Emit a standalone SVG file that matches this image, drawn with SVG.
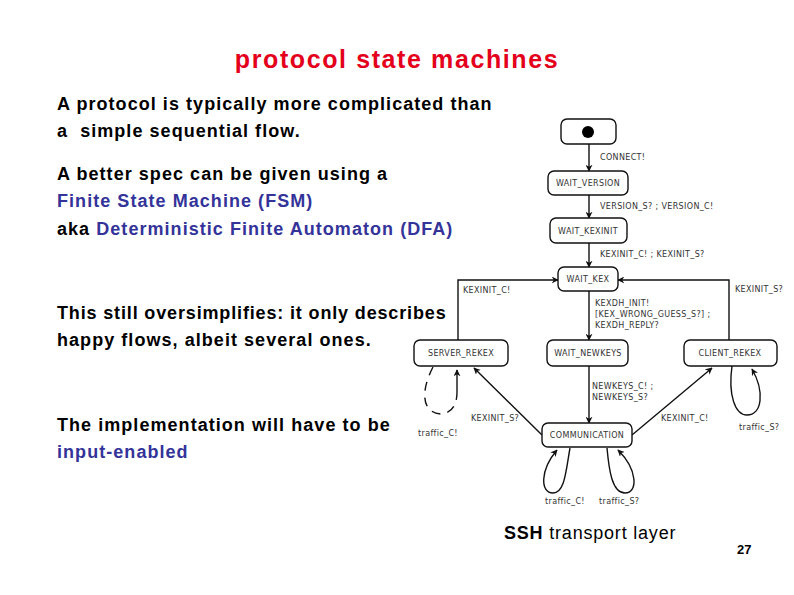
<svg xmlns="http://www.w3.org/2000/svg" width="794" height="595" viewBox="0 0 794 595">
<style>
.t{font-family:"Liberation Sans",Arial,sans-serif;font-weight:bold;font-size:18px;letter-spacing:1.05px;fill:#000}
.b{fill:#33339a}
.n rect{fill:#fff;stroke:#111;stroke-width:1.4}
.n text,.l{font-family:"DejaVu Sans",sans-serif;font-size:8px;letter-spacing:0.35px;fill:#333}
.n text{text-anchor:middle}
.c path{fill:none;stroke:#111;stroke-width:1.4}
</style>
<defs>
<marker id="a" viewBox="0 0 10 10" refX="9" refY="5" markerWidth="7" markerHeight="7" orient="auto" markerUnits="userSpaceOnUse">
<path d="M0,0 L10,5 L0,10 L3,5 z" fill="#111"/>
</marker>
</defs>
<rect width="794" height="595" fill="#fff"/>
<text x="397" y="68" text-anchor="middle" style="font-family:'Liberation Sans',Arial,sans-serif;font-weight:bold;font-size:25px;letter-spacing:1.6px;fill:#e4001b">protocol state machines</text>
<text class="t" x="57" y="110">A protocol is typically more complicated than</text>
<text class="t" x="57" y="137" xml:space="preserve">a  simple sequential flow.</text>
<text class="t" x="57" y="180">A better spec can be given using a</text>
<text class="t b" x="57" y="207">Finite State Machine (FSM)</text>
<text class="t" x="57" y="235">aka <tspan class="b">Deterministic Finite Automaton (DFA)</tspan></text>
<text class="t" x="57" y="319" style="letter-spacing:0.85px">This still oversimplifies: it only describes</text>
<text class="t" x="57" y="346">happy flows, albeit several ones.</text>
<text class="t" x="57" y="431">The implementation will have to be</text>
<text class="t b" x="57" y="458">input-enabled</text>
<text x="504" y="539" style="font-family:'Liberation Sans',Arial,sans-serif;font-size:18px;letter-spacing:0.8px;fill:#000"><tspan font-weight="bold">SSH</tspan> transport layer</text>
<text x="737" y="554" style="font-family:'Liberation Sans',Arial,sans-serif;font-size:13px;font-weight:bold;fill:#000">27</text>

<g class="c" id="connectors">
<path d="M589,144 V171" marker-end="url(#a)"/>
<path d="M589,195 V218" marker-end="url(#a)"/>
<path d="M589,243 V267" marker-end="url(#a)"/>
<path d="M589,291 V340" marker-end="url(#a)"/>
<path d="M589,366 V423" marker-end="url(#a)"/>
<path d="M458,340 V280 H558" marker-end="url(#a)"/>
<path d="M729,342 V280 H618" marker-end="url(#a)"/>
<path d="M542,435 L474,368" marker-end="url(#a)"/>
<path d="M632,435 L712,368" marker-end="url(#a)"/>
<path d="M433,367 C420,392 422,413 441,414 C455,413 457,400 457,392" stroke-dasharray="9,7"/>
<path d="M457,392 V370" marker-end="url(#a)"/>
<path d="M732,366 C728,395 735,415 747,415 C762,415 765,392 752,369" marker-end="url(#a)"/>
<path d="M570,448 C566,470 565,493 553,493 C540,493 540,470 557,450" marker-end="url(#a)"/>
<path d="M607,448 C609,470 612,493 625,493 C638,493 638,470 618,450" marker-end="url(#a)"/>
</g>

<g id="labels">
<text class="l" x="600" y="160">CONNECT!</text>
<text class="l" x="600" y="209">VERSION_S? ; VERSION_C!</text>
<text class="l" x="600" y="257">KEXINIT_C! ; KEXINIT_S?</text>
<text class="l" x="463" y="293">KEXINIT_C!</text>
<text class="l" x="735" y="292">KEXINIT_S?</text>
<text class="l" x="595" y="306">KEXDH_INIT!</text>
<text class="l" x="595" y="317">[KEX_WRONG_GUESS_S?] ;</text>
<text class="l" x="595" y="328">KEXDH_REPLY?</text>
<text class="l" x="592" y="389">NEWKEYS_C! ;</text>
<text class="l" x="592" y="400">NEWKEYS_S?</text>
<text class="l" x="471" y="421">KEXINIT_S?</text>
<text class="l" x="661" y="421">KEXINIT_C!</text>
<text class="l" x="418" y="436">traffic_C!</text>
<text class="l" x="739" y="430">traffic_S?</text>
<text class="l" x="545" y="504">traffic_C!</text>
<text class="l" x="599" y="504">traffic_S?</text>
</g>

<g class="n" id="start"><rect x="561" y="119" width="55" height="25" rx="6"/><circle cx="588" cy="132" r="6" fill="#000"/></g>
<g class="n" id="wait_version"><rect x="548" y="171" width="80" height="24" rx="6"/><text x="588" y="186">WAIT_VERSION</text></g>
<g class="n" id="wait_kexinit"><rect x="550" y="218" width="77" height="25" rx="6"/><text x="588" y="234">WAIT_KEXINIT</text></g>
<g class="n" id="wait_kex"><rect x="558" y="267" width="60" height="24" rx="6"/><text x="588" y="282">WAIT_KEX</text></g>
<g class="n" id="server_rekex"><rect x="414" y="340" width="94" height="26" rx="6"/><text x="461" y="356">SERVER_REKEX</text></g>
<g class="n" id="wait_newkeys"><rect x="547" y="340" width="81" height="26" rx="6"/><text x="588" y="356">WAIT_NEWKEYS</text></g>
<g class="n" id="client_rekex"><rect x="684" y="340" width="93" height="26" rx="6"/><text x="730" y="356">CLIENT_REKEX</text></g>
<g class="n" id="communication"><rect x="542" y="423" width="90" height="24" rx="6"/><text x="587" y="438">COMMUNICATION</text></g>
</svg>
